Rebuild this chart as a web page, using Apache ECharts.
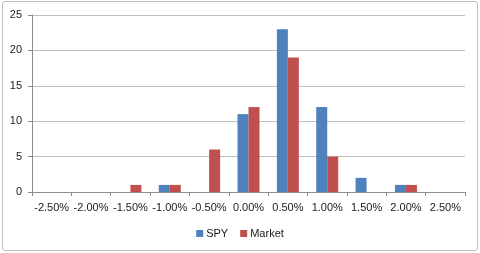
<!DOCTYPE html>
<html>
<head>
<meta charset="utf-8">
<script src="https://cdn.jsdelivr.net/npm/echarts@6/dist/echarts.min.js"></script>
<style>
html,body{margin:0;padding:0;background:#fff;}
#wrap{position:absolute;left:2px;top:1px;width:474px;height:248px;border:1px solid #bfbfbf;border-radius:3px;}
#c{position:absolute;left:0;top:0;width:480px;height:253px;}
</style>
</head>
<body>
<div id="wrap"></div>
<div id="c"></div>
<script>
const categories = ['-2.50%','-2.00%','-1.50%','-1.00%','-0.50%','0.00%','0.50%','1.00%','1.50%','2.00%','2.50%'];
const spy = [0,0,0,1,0,11,23,12,2,1,0];
const market = [0,0,1,1,6,12,19,5,0,1,0];
const yTicks = [0,5,10,15,20,25];

const chart = echarts.init(document.getElementById('c'), null, {renderer:'canvas'});
chart.setOption({
  animation:false,
  textStyle:{fontFamily:'Liberation Sans, Arial, sans-serif'},
  grid:{left:32,right:15,top:15,bottom:61,containLabel:false},
  legend:{
    bottom:9,left:'center',itemWidth:7,itemHeight:7,itemGap:12,icon:'rect',
    textStyle:{fontSize:11,color:'#1a1a1a',padding:[0,0,0,-2]},
    data:['SPY','Market']
  },
  xAxis:{
    type:'category',data:categories,
    axisLine:{lineStyle:{color:'#8c8c8c'}},
    axisTick:{show:true,length:4,lineStyle:{color:'#8c8c8c'}},
    axisLabel:{fontSize:11,color:'#1a1a1a',margin:10,interval:0}
  },
  yAxis:{
    type:'value',min:yTicks[0],max:yTicks[yTicks.length-1],interval:5,
    axisLine:{show:true,lineStyle:{color:'#8c8c8c'}},
    axisTick:{show:true,length:4,lineStyle:{color:'#8c8c8c'}},
    axisLabel:{fontSize:11,color:'#1a1a1a',margin:10},
    splitLine:{lineStyle:{color:'#bfbfbf'}}
  },
  series:[
    {name:'SPY',type:'bar',data:spy,barWidth:11,barGap:'0%',itemStyle:{color:'#4F81BD'}},
    {name:'Market',type:'bar',data:market,barWidth:11,barGap:'0%',itemStyle:{color:'#C0504D'}}
  ]
});
</script>
</body>
</html>
